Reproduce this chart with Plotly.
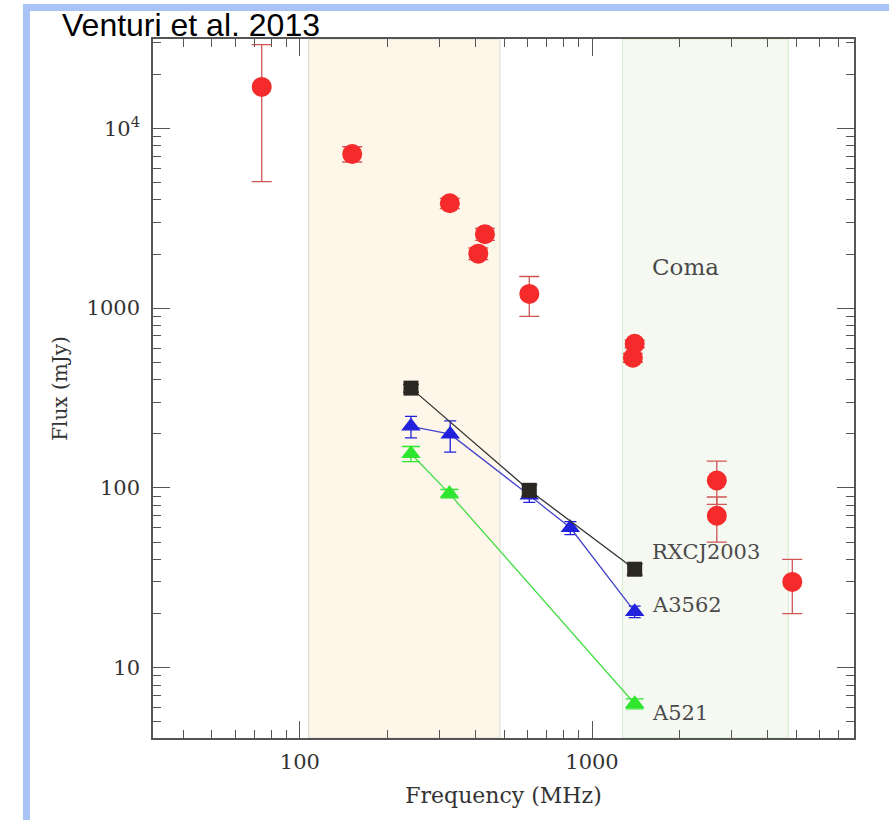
import math
import plotly.graph_objects as go

# ---------------- data ----------------
coma_freq = [74, 151, 326, 408, 430, 610, 1380, 1400, 2675, 2675, 4850]
coma_flux = [17000, 7200, 3830, 2010, 2580, 1200, 530, 634, 110, 70, 30]
coma_err_plus = [12200, 700, 250, 150, 200, 300, 30, 30, 31, 19, 10]
coma_err_minus = [11950, 700, 250, 150, 200, 300, 30, 30, 29, 20, 10]

rxcj_freq = [240, 610, 1400]
rxcj_flux = [359, 97, 35.3]
rxcj_err = [18, 7, 2.5]

a3562_freq = [240, 327, 610, 843, 1400]
a3562_flux = [220, 199, 91, 60, 20.5]
a3562_err_plus = [30, 37, 8, 5, 1.5]
a3562_err_minus = [30, 41, 8, 5, 1.5]

a521_freq = [240, 325, 1400]
a521_flux = [155, 93, 6.3]
a521_err = [15, 5, 0.4]

band_low = [107, 484]      # MHz, shaded low-frequency band
band_high = [1270, 4700]   # MHz, shaded GHz band

y_tickvals = [10, 100, 1000, 10000]
y_ticktext = ["10", "100", "1000", "10<sup>4</sup>"]
x_tickvals = [100, 1000]
x_ticktext = ["100", "1000"]

# ---------------- figure ----------------
W, H = 889, 820
ML, MR, MT, MB = 153, 35, 39, 82
PW, PH = W - ML - MR, H - MT - MB

SERIF = "DejaVu Serif"
AXC = "#555555"

fig = go.Figure()

def add_series(xs, ys, ep, em, color, lcolor, symbol, size, lines=True, ecolor=None, ewidth=5):
    fig.add_trace(go.Scatter(
        x=xs, y=ys,
        mode="lines+markers" if lines else "markers",
        line=dict(color=lcolor, width=1.3),
        marker=dict(color=color, symbol=symbol, size=size, line=dict(width=0)),
        error_y=dict(type="data", array=ep, arrayminus=em, visible=True,
                     color=ecolor or color, thickness=1.3, width=ewidth),
        showlegend=False, hoverinfo="x+y",
    ))

add_series(a521_freq, a521_flux, a521_err, a521_err, "#2ee62e", "#44dd44", "triangle-up", 17, ewidth=9)
add_series(a3562_freq, a3562_flux, a3562_err_plus, a3562_err_minus, "#2222dd", "#4444cc", "triangle-up", 17, ewidth=6)
add_series(rxcj_freq, rxcj_flux, rxcj_err, rxcj_err, "#2b2824", "#333333", "square", 15, ewidth=8)
add_series(coma_freq, coma_flux, coma_err_plus, coma_err_minus, "#f52a2a", "#f52a2a", "circle", 20,
           lines=False, ecolor="#d05555", ewidth=10)

shapes = []
# shaded bands
for (lo, hi), fill, border in [(band_low, "#fdf6e9", "#dedad2"), (band_high, "#f6f9f2", "#d2ecc8")]:
    shapes.append(dict(type="rect", xref="x", yref="paper", x0=lo, x1=hi, y0=0, y1=1,
                       fillcolor=fill, line=dict(color=border, width=1), layer="below"))

# slide frame (light blue stripes)
def px2paper_x(px):
    return (px - ML) / PW

def px2paper_y(py):
    return (H - MB - py) / PH

frame_col = "#a9c3f7"
shapes.append(dict(type="rect", xref="paper", yref="paper",
                   x0=px2paper_x(23), x1=px2paper_x(W + 5), y0=px2paper_y(11), y1=px2paper_y(4),
                   fillcolor=frame_col, line=dict(width=0), layer="above"))
shapes.append(dict(type="rect", xref="paper", yref="paper",
                   x0=px2paper_x(23), x1=px2paper_x(30), y0=px2paper_y(H + 5), y1=px2paper_y(4),
                   fillcolor=frame_col, line=dict(width=0), layer="above"))

annotations = [
    dict(text="Venturi et al. 2013", xref="paper", yref="paper",
         x=px2paper_x(60), y=px2paper_y(25), xanchor="left", yanchor="middle",
         showarrow=False, font=dict(family="Liberation Sans, Arial", size=32, color="#000000")),
]
for txt, lx, ly, sz in [("Coma", 1580, 1700, 23), ("RXCJ2003", 1580, 44, 21),
                        ("A3562", 1580, 22.3, 21), ("A521", 1580, 5.6, 21)]:
    annotations.append(dict(text=txt, xref="x", yref="y", x=math.log10(lx), y=math.log10(ly),
                            xanchor="left", yanchor="middle", showarrow=False,
                            font=dict(family=SERIF, size=sz, color="#4a4a4a")))

def minor_vals(d0, d1):
    return [m * 10 ** d for d in range(d0, d1) for m in range(2, 10)]

axis_common = dict(
    type="log", showgrid=False, zeroline=False,
    showline=True, linecolor=AXC, linewidth=1.6, mirror="allticks",
    ticks="inside", ticklen=17, tickwidth=1.4, tickcolor=AXC,
    tickfont=dict(family=SERIF, size=21, color="#333333"),
)

fig.update_layout(
    width=W, height=H,
    margin=dict(l=ML, r=MR, t=MT, b=MB, autoexpand=False),
    paper_bgcolor="white", plot_bgcolor="white",
    shapes=shapes, annotations=annotations,
    xaxis=dict(**axis_common, range=[1.497, 3.897],
               tickmode="array", tickvals=x_tickvals, ticktext=x_ticktext,
               ticklabelstandoff=4,
               minor=dict(tickmode="array", tickvals=minor_vals(1, 4), ticks="inside",
                          ticklen=8, tickwidth=1.2, tickcolor=AXC, showgrid=False),
               title=dict(text="Frequency (MHz)", standoff=15,
                          font=dict(family=SERIF, size=22, color="#333333"))),
    yaxis=dict(**axis_common, range=[0.609, 4.497],
               tickmode="array", tickvals=y_tickvals, ticktext=y_ticktext,
               ticklabelstandoff=7,
               minor=dict(tickmode="array", tickvals=minor_vals(0, 5), ticks="inside",
                          ticklen=8, tickwidth=1.2, tickcolor=AXC, showgrid=False),
               title=dict(text="Flux (mJy)", standoff=14,
                          font=dict(family=SERIF, size=20, color="#333333"))),
)

fig.write_html("out.html", config={"displayModeBar": False},
               post_script="document.body.style.margin='0';document.body.style.padding='0';")
